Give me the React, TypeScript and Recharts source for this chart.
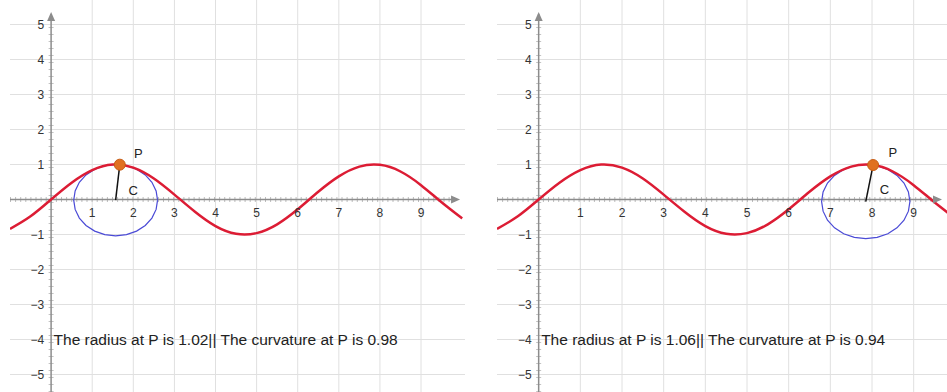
import React from 'react';
import { ComposedChart, Line, Scatter, XAxis, YAxis, ReferenceLine, ReferenceDot } from 'recharts';

// y = sin(x), every half unit
const curveX = [-1, -0.5, 0, 0.5, 1, 1.5, 2, 2.5, 3, 3.5, 4, 4.5, 5, 5.5, 6, 6.5, 7, 7.5, 8, 8.5, 9, 9.5, 10];
const curveY = [-0.84, -0.48, 0, 0.48, 0.84, 1.0, 0.91, 0.6, 0.14, -0.35, -0.76, -0.98, -0.96, -0.71, -0.28, 0.22, 0.66, 0.94, 0.99, 0.8, 0.41, -0.08, -0.54];

const xTicks = [1, 2, 3, 4, 5, 6, 7, 8, 9];
const yTicks = [-5, -4, -3, -2, -1, 1, 2, 3, 4, 5];
const gridY = [-5, -4, -3, -2, -1, 1, 2, 3, 4, 5];

// osculating circles, traced round from the picture
const leftCircleX = [2.59, 2.555, 2.453, 2.291, 2.08, 1.834, 1.57, 1.306, 1.06, 0.849, 0.687, 0.585, 0.55, 0.585, 0.687, 0.849, 1.06, 1.306, 1.57, 1.834, 2.08, 2.291, 2.453, 2.555, 2.59];
const leftCircleY = [-0.02, 0.244, 0.49, 0.701, 0.863, 0.965, 1.0, 0.965, 0.863, 0.701, 0.49, 0.244, -0.02, -0.284, -0.53, -0.741, -0.903, -1.005, -1.04, -1.005, -0.903, -0.741, -0.53, -0.284, -0.02];
const rightCircleX = [8.91, 8.874, 8.768, 8.599, 8.38, 8.124, 7.85, 7.576, 7.32, 7.101, 6.932, 6.826, 6.79, 6.826, 6.932, 7.101, 7.32, 7.576, 7.85, 8.124, 8.38, 8.599, 8.768, 8.874, 8.91];
const rightCircleY = [-0.06, 0.214, 0.47, 0.689, 0.858, 0.964, 1.0, 0.964, 0.858, 0.689, 0.47, 0.214, -0.06, -0.334, -0.59, -0.809, -0.978, -1.084, -1.12, -1.084, -0.978, -0.809, -0.59, -0.334, -0.06];

const pointP = [{ x: 1.671, y: 0.995 }, { x: 8.026, y: 0.985 }];
const pointC = [{ x: 1.57, y: -0.02 }, { x: 7.85, y: -0.06 }];
const labelP = [{ x: 2.12, y: 1.33 }, { x: 8.5, y: 1.35 }];
const labelC = [{ x: 2.0, y: 0.27 }, { x: 8.3, y: 0.29 }];
const radii = ['1.02', '1.06'];
const curvatures = ['0.98', '0.94'];

const FONT = '"Liberation Sans", Arial, sans-serif';
const AXIS = '#8c8c8c';

const sineData = curveX.map((x, i) => ({ x, y: curveY[i] }));
const toPts = (xs: number[], ys: number[]) => xs.map((x, i) => ({ x, y: ys[i] }));

function TextAt(text: string, dx: number, dy: number, anchor: string, size: number, fill = '#333') {
  return (props: any) => (
    <text x={props.cx + dx} y={props.cy + dy} textAnchor={anchor} fontSize={size} fontFamily={FONT} fill={fill}>
      {text}
    </text>
  );
}

interface PanelProps {
  idx: number;
  left: number;
  width: number;
  xMax: number;
  circle: { x: number; y: number }[];
}

function Panel({ idx, left, width, xMax, circle }: PanelProps) {
  const xMin = -1;
  const yMin = -5.5;
  const yMax = 5.7;
  const caption = `The radius at P is ${radii[idx]}|| The curvature at P is ${curvatures[idx]}`;
  return (
    <div style={{ position: 'absolute', left, top: 0 }}>
      <ComposedChart width={width} height={392} margin={{ top: 0, right: 0, bottom: 0, left: 0 }}>
        <XAxis hide type="number" dataKey="x" domain={[xMin, xMax]} allowDataOverflow />
        <YAxis hide type="number" dataKey="y" domain={[yMin, yMax]} allowDataOverflow />
        {xTicks.map((v) => (
          <ReferenceLine key={'gx' + v} x={v} stroke="#e0e0e0" strokeWidth={1} />
        ))}
        {gridY.map((v) => (
          <ReferenceLine key={'gy' + v} y={v} stroke="#e0e0e0" strokeWidth={1} />
        ))}
        {/* axes with minor tick texture */}
        <ReferenceLine segment={[{ x: xMin, y: 0 }, { x: xMax - 0.2, y: 0 }]} stroke="#bdbdbd" strokeWidth={5} strokeDasharray="1 4.1" />
        <ReferenceLine segment={[{ x: xMin, y: 0 }, { x: xMax - 0.2, y: 0 }]} stroke={AXIS} strokeWidth={1.5} />
        <ReferenceLine segment={[{ x: 0, y: yMin }, { x: 0, y: 5.3 }]} stroke="#c4c4c4" strokeWidth={5} strokeDasharray="1 6" />
        <ReferenceLine segment={[{ x: 0, y: yMin }, { x: 0, y: 5.3 }]} stroke={AXIS} strokeWidth={1.5} />
        <ReferenceDot
          x={xMax - 0.12}
          y={0}
          r={1}
          shape={(p: any) => (
            <polygon points={`${p.cx},${p.cy} ${p.cx - 9},${p.cy - 4} ${p.cx - 9},${p.cy + 4}`} fill={AXIS} />
          )}
        />
        <ReferenceDot
          x={0}
          y={5.36}
          r={1}
          shape={(p: any) => (
            <polygon points={`${p.cx},${p.cy} ${p.cx - 4},${p.cy + 9} ${p.cx + 4},${p.cy + 9}`} fill={AXIS} />
          )}
        />
        {xTicks.map((v) => (
          <Scatter
            key={'tx' + v}
            data={[{ x: v, y: 0 }]}
            dataKey="y"
            isAnimationActive={false}
            shape={TextAt(String(v), 0, 17, 'middle', 12)}
          />
        ))}
        {yTicks.map((v) => (
          <Scatter
            key={'ty' + v}
            data={[{ x: 0, y: v }]}
            dataKey="y"
            isAnimationActive={false}
            shape={TextAt(v < 0 ? '\u2212' + Math.abs(v) : String(v), -7, 4.5, 'end', 12)}
          />
        ))}
        <Line data={circle} dataKey="y" type="linear" stroke="#4a4ad6" strokeWidth={1.2} dot={false} isAnimationActive={false} />
        <Line data={sineData} dataKey="y" type="natural" stroke="#dc1c34" strokeWidth={2.5} dot={false} isAnimationActive={false} />
        <ReferenceLine segment={[pointP[idx], pointC[idx]]} stroke="#111" strokeWidth={1.5} />
        <ReferenceDot x={pointP[idx].x} y={pointP[idx].y} r={5.5} fill="#e07020" stroke="#c65c14" strokeWidth={1} />
        <Scatter data={[labelP[idx]]} dataKey="y" isAnimationActive={false} shape={TextAt('P', 0, 5, 'middle', 13, '#222')} />
        <Scatter data={[labelC[idx]]} dataKey="y" isAnimationActive={false} shape={TextAt('C', 0, 5, 'middle', 13, '#222')} />
        <Scatter
          data={[{ x: 0.06, y: -4 }]}
          dataKey="y"
          isAnimationActive={false}
          shape={TextAt(caption, 0, 5.5, 'start', 15.5, '#222')}
        />
      </ComposedChart>
    </div>
  );
}

export default function App() {
  return (
    <div style={{ position: 'absolute', left: 0, top: 0, width: 947, height: 392, background: '#fff', overflow: 'hidden' }}>
      <Panel idx={0} left={10} width={455} xMax={10.07} circle={toPts(leftCircleX, leftCircleY)} />
      <Panel idx={1} left={497} width={450} xMax={9.8} circle={toPts(rightCircleX, rightCircleY)} />
    </div>
  );
}
